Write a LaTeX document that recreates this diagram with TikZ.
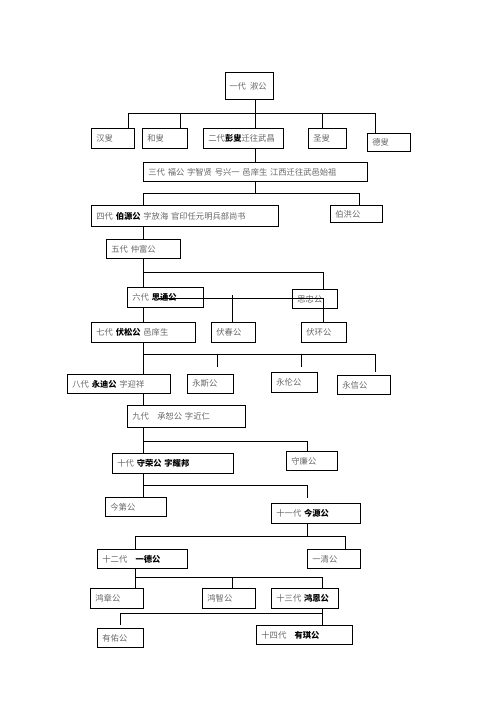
\documentclass[tikz,border=0pt]{standalone}
\usepackage{fontspec}
\newfontfamily\cjk{Noto Sans CJK SC}
\usepackage{xcolor}
\definecolor{inkgrey}{rgb}{0.4, 0.4, 0.4}
\newcommand{\gname}[1]{{\bfseries\color{black}#1}}

\begin{document}
\begin{tikzpicture}[x=1pt,y=-1pt,line width=0.8pt]
            \tikzstyle{box}=[draw,fill=white,anchor=north west,inner xsep=5pt,inner ysep=0pt,align=left,text=inkgrey,font=\cjk\fontsize{8.3}{10}\selectfont]

            \useasboundingbox (0,0) rectangle (496,702);

            % Generations 1 to 4
            \node[box,text width=40pt,inner xsep=4pt,minimum height=27pt] (g1) at (225,72) {一代\enspace 淑公};
            \node[box,text width=33pt,minimum height=20pt] (hansou) at (91,128) {汉叟};
            \node[box,text width=35pt,minimum height=20pt] (hesou) at (142,128) {和叟};
            \node[box,text width=70pt,minimum height=20pt] (g2) at (203,128) {二代\gname{彭叟}迁往武昌};
            \node[box,text width=28pt,minimum height=20pt] (shengsou) at (308,128) {圣叟};
            \node[box,text width=33pt,minimum height=18pt] (desou) at (367,133) {德叟};
            \node[box,text width=214pt,minimum height=19pt] (g3) at (143,162) {三代 福公 字智贤 号兴一 邑庠生 江西迁往武邑始祖};
            \node[box,text width=177pt,minimum height=21pt] (g4) at (91,205) {四代 \gname{伯源公} 字放海 官印任元明兵部尚书};
            \node[box,text width=42pt,minimum height=17pt] (bohong) at (330,205) {伯洪公};

            % Generations 5 to 8
            \node[box,text width=64pt,minimum height=19pt] (g5) at (106,239) {五代 仲富公};
            \node[box,text width=66pt,minimum height=20pt] (g6) at (127,287) {六代 \gname{思通公}};
            \node[box,text width=35pt,minimum height=19pt] (sizhong) at (292,289) {思忠公};
            \node[box,text width=94pt,minimum height=20pt] (g7) at (91,322) {七代 \gname{伏松公} 邑庠生};
            \node[box,text width=34pt,minimum height=20pt] (fuchun) at (211,322) {伏春公};
            \node[box,text width=35pt,minimum height=20pt] (fuhuan) at (301,322) {伏环公};
            \node[box,text width=93pt,minimum height=19pt] (g8) at (67,374) {八代 \gname{永迪公} 字迎祥};
            \node[box,text width=36pt,minimum height=19pt] (yongsi) at (187,374) {永斯公};
            \node[box,text width=36pt,minimum height=20pt] (yonglun) at (271,372) {永伦公};
            \node[box,text width=43pt,minimum height=19pt] (yongxin) at (337,375) {永信公};

            % Generations 9 to 14
            \node[box,text width=108pt,minimum height=22pt] (g9) at (127,405) {九代\quad 承恕公 字近仁};
            \node[box,text width=111pt,minimum height=20pt] (g10) at (112,453) {十代 \gname{守荣公 字耀邦}};
            \node[box,text width=41pt,minimum height=19pt] (shoulian) at (286,451) {守廉公};
            \node[box,text width=51pt,minimum height=19pt] (jindi) at (105,497) {今第公};
            \node[box,text width=79pt,minimum height=20pt] (g11) at (271,503) {十一代 \gname{今源公}};
            \node[box,text width=80pt,minimum height=19pt] (g12) at (97,549) {十二代\quad\gname{一德公}};
            \node[box,text width=43pt,minimum height=19pt] (yiqing) at (307,549) {一清公};
            \node[box,text width=43pt,minimum height=20pt] (hongzhang) at (90,588) {鸿章公};
            \node[box,text width=43pt,minimum height=20pt] (hongzhi) at (202,588) {鸿智公};
            \node[box,text width=57pt,minimum height=20pt] (g13) at (271,588) {十三代 \gname{鸿恩公}};
            \node[box,text width=36pt,minimum height=19pt] (youyou) at (97,628) {有佑公};
            \node[box,text width=86pt,minimum height=19pt] (g14) at (256,625) {十四代\quad\gname{有琪公}};

            % Junctions of the family lines
            \coordinate (b1) at (255,113);
            \coordinate (b1l) at (128,113);
            \coordinate (b1h) at (180,113);
            \coordinate (b1s) at (322,113);
            \coordinate (b1r) at (375,113);
            \coordinate (b2) at (255,193);
            \coordinate (b2l) at (143,193);
            \coordinate (b2r) at (359,193);
            \coordinate (b3l) at (143,272);
            \coordinate (b3r) at (323,272);
            \coordinate (b4l) at (158,298);
            \coordinate (b4r) at (323,298);
            \coordinate (b4c) at (232,295);
            \coordinate (b5l) at (143,354);
            \coordinate (b5a) at (217,354);
            \coordinate (b5b) at (301,354);
            \coordinate (b5r) at (375,354);
            \coordinate (b6l) at (143,441);
            \coordinate (b6r) at (307,441);
            \coordinate (b7l) at (143,485);
            \coordinate (b7r) at (307,485);
            \coordinate (b8) at (307,536);
            \coordinate (b8l) at (135,536);
            \coordinate (b8r) at (345,536);
            \coordinate (b9l) at (135,577);
            \coordinate (b9c) at (232,577);
            \coordinate (b9r) at (322,577);
            \coordinate (b10l) at (120,613);
            \coordinate (b10r) at (322,613);

            % Lines from generation 1 to 4
            \draw (b1 |- g1.south) -- (b1 |- g2.north);
            \draw (b1l) -- (b1r);
            \draw (b1l) -- (b1l |- hansou.north);
            \draw (b1h) -- (b1h |- hesou.north);
            \draw (b1s) -- (b1s |- shengsou.north);
            \draw (b1r) -- (b1r |- desou.north);
            \draw (b1 |- g2.south) -- (b1 |- g3.north);
            \draw (b2 |- g3.south) -- (b2);
            \draw (b2l) -- (b2r);
            \draw (b2l) -- (b2l |- g4.north);
            \draw (b2r) -- (b2r |- bohong.north);

            % Lines from generation 4 to 8
            \draw (b3l |- g4.south) -- (b3l |- g5.north);
            \draw (b3l |- g5.south) -- (b3l |- g6.north);
            \draw (b3l) -- (b3r) -- (b3r |- sizhong.north);
            \draw (b3l |- g6.south) -- (b3l |- g7.north);
            \draw (b4l) -- (b4r) -- (b4r |- fuhuan.north);
            \draw (b4c) -- (b4c |- fuchun.north);
            \draw (b5l |- g7.south) -- (b5l |- g8.north);
            \draw (b5l) -- (b5r);
            \draw[shorten >=7pt] (b5a) -- (b5a |- yongsi.north);
            \draw[shorten >=5pt] (b5b) -- (b5b |- yonglun.north);
            \draw[shorten >=3pt] (b5r) -- (b5r |- yongxin.north);

            % Lines from generation 8 to 14
            \draw (b6l |- g8.south) -- (b6l |- g9.north);
            \draw (b6l |- g9.south) -- (b6l |- g10.north);
            \draw (b6l) -- (b6r) -- (b6r |- shoulian.north);
            \draw (b7l |- g10.south) -- (b7l |- jindi.north);
            \draw (b7l) -- (b7r);
            \draw[shorten >=5pt] (b7r) -- (b7r |- g11.north);
            \draw (b8 |- g11.south) -- (b8);
            \draw (b8l) -- (b8r);
            \draw (b8l) -- (b8l |- g12.north);
            \draw (b8r) -- (b8r |- yiqing.north);
            \draw (b9l |- g12.south) -- (b9l |- hongzhang.north);
            \draw (b9l) -- (b9r) -- (b9r |- g13.north);
            \draw (b9c) -- (b9c |- hongzhi.north);
            \draw (b10r |- g13.south) -- (b10r |- g14.north);
            \draw (b10l) -- (b10r);
            \draw[shorten >=3pt] (b10l) -- (b10l |- youyou.north);
        \end{tikzpicture}
\end{document}
